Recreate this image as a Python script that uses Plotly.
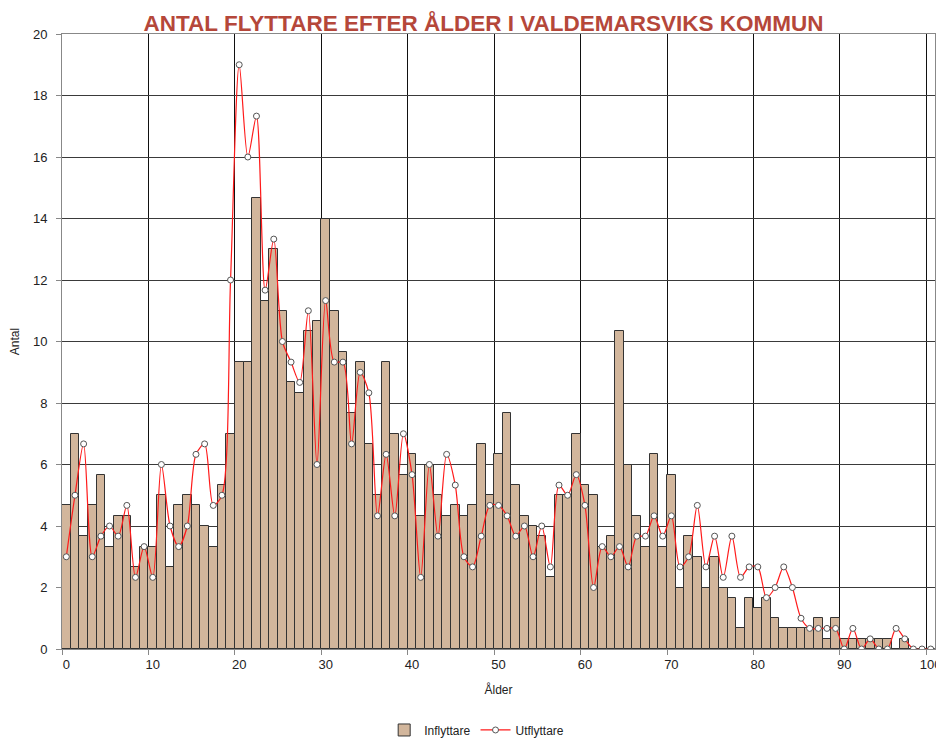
import plotly.graph_objects as go

# ålder 0-100
alder = list(range(0, 101))

# inflyttare per ålder (medel av tre år)
inflyttare = [
    4.67, 7, 3.67, 4.67, 5.67, 3.33, 4.33, 4.33, 2.67, 3.33,
    3.33, 5, 2.67, 4.67, 5, 4.67, 4, 3.33, 5.33, 7,
    9.33, 9.33, 14.67, 11.33, 13, 11, 8.67, 8.33, 10.33, 10.67,
    14, 11, 9.67, 7.67, 9.33, 6.67, 5, 9.33, 7, 5.67,
    6.33, 4.33, 6, 5, 4.33, 4.67, 4.33, 4.67, 6.67, 5,
    6.33, 7.67, 5.33, 4.33, 4, 3.67, 2.33, 5, 5, 7,
    5.33, 5, 3.33, 3.67, 10.33, 6, 4.33, 3.33, 6.33, 3.33,
    5.67, 2, 3.67, 3, 2, 3, 2, 1.67, 0.67, 1.67,
    1.33, 1.67, 1, 0.67, 0.67, 0.67, 0.67, 1, 0.33, 1,
    0.33, 0.33, 0.33, 0.33, 0.33, 0.33, 0, 0.33, 0, 0,
    0,
]

# utflyttare per ålder
utflyttare = [
    3, 5, 6.67, 3, 3.67, 4, 3.67, 4.67, 2.33, 3.33,
    2.33, 6, 4, 3.33, 4, 6.33, 6.67, 4.67, 5, 12,
    19, 16, 17.33, 11.67, 13.33, 10, 9.33, 8.67, 11, 6,
    11.33, 9.33, 9.33, 6.67, 9, 8.33, 4.33, 6.33, 4.33, 7,
    5.67, 2.33, 6, 3.67, 6.33, 5.33, 3, 2.67, 3.67, 4.67,
    4.67, 4.33, 3.67, 4, 3, 4, 2.67, 5.33, 5, 5.67,
    4.67, 2, 3.33, 3, 3.33, 2.67, 3.67, 3.67, 4.33, 3.67,
    4.33, 2.67, 3, 4.67, 2.67, 3.67, 2.33, 3.67, 2.33, 2.67,
    2.67, 1.67, 2, 2.67, 2, 1, 0.67, 0.67, 0.67, 0.67,
    0, 0.67, 0, 0.33, 0, 0, 0.67, 0.33, 0, 0,
    0,
]

x_ticks = list(range(0, 101, 10))

font_main = "Liberation Sans, Arial, sans-serif"

fig = go.Figure()

fig.add_trace(go.Bar(
    x=alder, y=inflyttare, name="Inflyttare",
    marker=dict(color="#D2B69C", line=dict(color="#333333", width=1)),
))

fig.add_trace(go.Scatter(
    x=alder, y=utflyttare, name="Utflyttare", mode="lines+markers",
    line=dict(color="#FF1A1A", width=1.2, shape="spline", smoothing=0.8),
    marker=dict(symbol="circle", size=6, color="white",
                line=dict(color="#555555", width=1)),
))

# sidan får 8px body-marginal, därför 936x730
fig.update_layout(
    width=936, height=730,
    margin=dict(l=54, r=9, t=26, b=89, autoexpand=False),
    plot_bgcolor="white", paper_bgcolor="white",
    bargap=0,
    font=dict(family=font_main, size=12, color="#222222"),
    title=dict(
        text="<b>ANTAL FLYTTARE EFTER ÅLDER I VALDEMARSVIKS KOMMUN</b>",
        x=0.508, xanchor="center", y=0.979, yanchor="middle",
        font=dict(family=font_main, size=22.5, color="#B5473A"),
    ),
    xaxis=dict(
        range=[-0.5, 100.5], automargin=False,
        tickmode="array", tickvals=x_ticks,
        ticks="", showgrid=False, ticklabelstandoff=3,
        ticklabeloverflow="allow",
        showline=True, linecolor="#888888", linewidth=1, mirror=True,
        tickfont=dict(size=13, color="#222222"),
        title=dict(text="Ålder", standoff=15, font=dict(size=12)),
        minor=dict(tickmode="linear", tick0=-0.5, dtick=10,
                   showgrid=True, gridcolor="#111111", gridwidth=1,
                   ticks="outside", ticklen=5, tickcolor="#888888"),
    ),
    yaxis=dict(
        range=[0, 20], dtick=2, automargin=False,
        showgrid=True, gridcolor="#3a3a3a", gridwidth=1,
        showline=True, linecolor="#888888", linewidth=1, mirror=True,
        ticks="outside", ticklen=5, tickcolor="#888888",
        ticklabelstandoff=6,
        tickfont=dict(size=13, color="#222222"),
        title=dict(text="Antal", standoff=12, font=dict(size=12)),
        zeroline=False,
    ),
    legend=dict(
        orientation="h", x=0.475, xanchor="center",
        yref="container", y=0.011, yanchor="middle",
        font=dict(size=12), traceorder="normal",
    ),
)

fig.write_html("out.html")
